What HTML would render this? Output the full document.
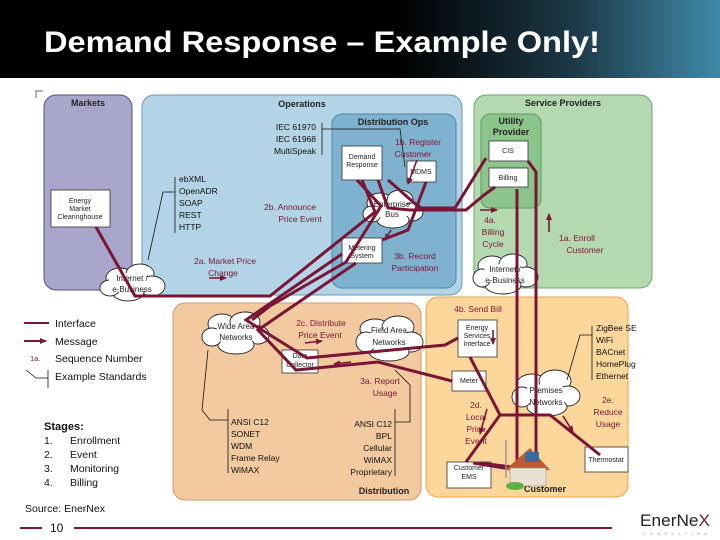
<!DOCTYPE html>
<html><head><meta charset="utf-8"><style>
body{margin:0;width:720px;height:540px;overflow:hidden;background:#fff;font-family:"Liberation Sans",sans-serif}
svg{display:block}
text{font-family:"Liberation Sans",sans-serif}
</style></head><body>
<svg width="720" height="540" viewBox="0 0 720 540" xmlns="http://www.w3.org/2000/svg">
<defs>
<linearGradient id="hg" x1="0" x2="1"><stop offset="0.55" stop-color="#000"/><stop offset="0.8" stop-color="#1d3a48"/><stop offset="1" stop-color="#3f8aa8"/></linearGradient>
<marker id="ar" markerUnits="userSpaceOnUse" markerWidth="7" markerHeight="6" refX="6" refY="3" orient="auto"><path d="M0,0 L7,3 L0,6 z" fill="#7a1535"/></marker>
</defs>
<rect x="0" y="0" width="720" height="78" fill="url(#hg)"/>
<text x="44" y="52" fill="#fff" font-size="30" font-weight="bold" textLength="556" lengthAdjust="spacingAndGlyphs">Demand Response – Example Only!</text>
<path d="M36 98 V91 H43" stroke="#666" fill="none" stroke-width="1"/>

<!-- regions -->
<rect x="44" y="95" width="88" height="195" rx="12" fill="#a9a6cb" stroke="#55527e"/>
<rect x="142" y="95" width="320" height="200" rx="12" fill="#b3d3e6" stroke="#6a9ab8"/>
<rect x="332" y="114" width="124" height="174" rx="10" fill="#7fb2cf" stroke="#4d86a8"/>
<rect x="474" y="95" width="178" height="193" rx="12" fill="#b4d9b1" stroke="#6aa86a"/>
<rect x="481" y="114" width="60" height="94" rx="9" fill="#8cc58c" stroke="#5a9a5a"/>
<rect x="173" y="303" width="248" height="197" rx="12" fill="#f3c9a0" stroke="#d49a66"/>
<rect x="426" y="297" width="202" height="200" rx="12" fill="#fcd79c" stroke="#eaa63e"/>

<g font-weight="bold" font-size="9" fill="#222" text-anchor="middle">
<text x="88" y="106">Markets</text>
<text x="302" y="107">Operations</text>
<text x="393" y="125">Distribution Ops</text>
<text x="563" y="106">Service Providers</text>
<text x="511" y="124">Utility</text><text x="511" y="135">Provider</text>
<text x="384" y="494">Distribution</text>
<text x="545" y="492">Customer</text>
</g>

<!-- boxes -->
<g fill="#fff" stroke="#333" stroke-width="0.8">
<rect x="51" y="190" width="59" height="37"/>
<rect x="342" y="146" width="40" height="34"/>
<rect x="407" y="161" width="29" height="21"/>
<rect x="342" y="238" width="40" height="25"/>
<rect x="489" y="141" width="39" height="20"/>
<rect x="489" y="168" width="39" height="19"/>
<rect x="282" y="350" width="36" height="23"/>
<rect x="458" y="320" width="39" height="37"/>
<rect x="452" y="371" width="34" height="20"/>
<rect x="447" y="462" width="44" height="26"/>
<rect x="585" y="447" width="43" height="25"/>
</g>
<g font-size="7" fill="#222" text-anchor="middle">
<text x="80" y="203">Energy</text><text x="80" y="211">Market</text><text x="80" y="219">Clearinghouse</text>
<text x="362" y="159">Demand</text><text x="362" y="167">Response</text>
<text x="421" y="174">MDMS</text>
<text x="362" y="250">Metering</text><text x="362" y="258">System</text>
<text x="508" y="153">CIS</text>
<text x="508" y="180">Billing</text>
<text x="300" y="358">Data</text><text x="300" y="367">Collector</text>
<text x="477" y="330">Energy</text><text x="477" y="338">Services</text><text x="477" y="346">Interface</text>
<text x="469" y="383">Meter</text>
<text x="469" y="470">Customer</text><text x="469" y="479">EMS</text>
<text x="606" y="462">Thermostat</text>
</g>

<!-- clouds -->
<g fill="#fff" stroke="#222" stroke-width="0.9">
<g><ellipse cx="120" cy="278" rx="14" ry="10"/><ellipse cx="140" cy="274" rx="14" ry="10"/><ellipse cx="152" cy="286" rx="13" ry="10"/><ellipse cx="128" cy="292" rx="16" ry="9"/><ellipse cx="110" cy="288" rx="10" ry="8"/></g>
<g><ellipse cx="492" cy="266" rx="14" ry="10"/><ellipse cx="513" cy="264" rx="14" ry="10"/><ellipse cx="526" cy="277" rx="12" ry="10"/><ellipse cx="503" cy="285" rx="18" ry="9"/><ellipse cx="482" cy="278" rx="9" ry="9"/></g>
<g><ellipse cx="380" cy="203" rx="13" ry="10"/><ellipse cx="400" cy="200" rx="13" ry="10"/><ellipse cx="412" cy="212" rx="11" ry="9"/><ellipse cx="393" cy="220" rx="16" ry="8"/><ellipse cx="372" cy="214" rx="9" ry="8"/></g>
<g><ellipse cx="222" cy="324" rx="14" ry="10"/><ellipse cx="245" cy="322" rx="15" ry="10"/><ellipse cx="258" cy="335" rx="11" ry="9"/><ellipse cx="236" cy="345" rx="18" ry="9"/><ellipse cx="212" cy="337" rx="10" ry="9"/></g>
<g><ellipse cx="375" cy="329" rx="15" ry="10"/><ellipse cx="398" cy="327" rx="16" ry="11"/><ellipse cx="411" cy="342" rx="12" ry="10"/><ellipse cx="389" cy="352" rx="20" ry="9"/><ellipse cx="366" cy="342" rx="10" ry="10"/></g>
<g><ellipse cx="532" cy="384" rx="15" ry="10"/><ellipse cx="555" cy="381" rx="16" ry="11"/><ellipse cx="568" cy="396" rx="12" ry="10"/><ellipse cx="547" cy="407" rx="20" ry="9"/><ellipse cx="522" cy="397" rx="10" ry="10"/></g>
</g>
<g fill="#fff">
<ellipse cx="130" cy="283" rx="22" ry="10"/><ellipse cx="504" cy="274" rx="22" ry="10"/><ellipse cx="392" cy="210" rx="20" ry="9"/>
<ellipse cx="236" cy="334" rx="22" ry="10"/><ellipse cx="389" cy="340" rx="24" ry="11"/><ellipse cx="546" cy="395" rx="24" ry="11"/>
</g>
<g font-size="8" fill="#222" text-anchor="middle">
<text x="132" y="281">Internet /</text><text x="132" y="292">e-Business</text>
<text x="505" y="272">Internet /</text><text x="505" y="283">e-Business</text>
<text x="392" y="207">Enterprise</text><text x="392" y="217">Bus</text>
<text x="236" y="329">Wide Area</text><text x="236" y="340">Networks</text>
<text x="389" y="333">Field Area</text><text x="389" y="345">Networks</text>
<text x="546" y="393">Premises</text><text x="546" y="405">Networks</text>
</g>

<!-- interface lines -->
<g stroke="#7a1535" stroke-width="3" fill="none" stroke-linejoin="miter">
<path d="M96 227 L135 296 L270 296 L375 212 L362 180"/>
<path d="M378 180 L388 208 L410 210 L466 210 L484 195 L495 187"/>
<path d="M426 182 L408 230 L382 240"/>
<path d="M357 180 L381 206 L346 262 L270 306 L252 320"/>
<path d="M388 180 L420 208 L455 208 L486 158"/>
<path d="M342 254 L246 320 L307 358 L445 345 L458 338"/>
<path d="M356 263 L258 330 L296 370 L378 362 L452 381"/>
<path d="M517 189 L517 470 L473 463"/>
<path d="M528 161 L536 172 L536 470 L480 463"/>
<path d="M470 357 L500 415 L466 462"/>
<path d="M500 415 L550 415 L600 455"/>
</g>
<g stroke="#7a1535" stroke-width="1.6" fill="none" marker-end="url(#ar)">
<line x1="209" y1="278" x2="226" y2="278"/>
<line x1="417" y1="160" x2="408" y2="184"/>
<line x1="391" y1="230" x2="385" y2="240"/>
<line x1="480" y1="210" x2="497" y2="210"/>
<line x1="549" y1="232" x2="549" y2="214"/>
<line x1="305" y1="343" x2="322" y2="341"/>
<line x1="351" y1="362" x2="334" y2="364"/>
<line x1="493" y1="330" x2="493" y2="344"/>
<line x1="487" y1="409" x2="480" y2="434"/>
<line x1="563" y1="416" x2="573" y2="432"/>
</g>

<!-- standards brackets -->
<g stroke="#111" stroke-width="0.8" fill="none">
<path d="M322 123 V155 M322 129 H400 L405 167"/>
<path d="M175 177 V233 M175 192 H163 L148 260"/>
<path d="M228 409 V473 M228 420 H210 L202 410 L208 350"/>
<path d="M395 409 V476 M395 422 H410 V385 L395 370"/>
<path d="M592 326 V380 M592 335 H580 L567 380"/>
</g>

<g font-size="8.5" fill="#111">
<text x="316" y="130" text-anchor="end">IEC 61970</text>
<text x="316" y="142" text-anchor="end">IEC 61968</text>
<text x="316" y="154" text-anchor="end">MultiSpeak</text>
<text x="179" y="182">ebXML</text><text x="179" y="194">OpenADR</text><text x="179" y="206">SOAP</text><text x="179" y="218">REST</text><text x="179" y="230">HTTP</text>
<text x="231" y="425">ANSI C12</text><text x="231" y="437">SONET</text><text x="231" y="449">WDM</text><text x="231" y="461">Frame Relay</text><text x="231" y="473">WiMAX</text>
<g text-anchor="end"><text x="392" y="427">ANSI C12</text><text x="392" y="439">BPL</text><text x="392" y="451">Cellular</text><text x="392" y="463">WiMAX</text><text x="392" y="475">Proprietary</text></g>
<text x="596" y="331">ZigBee SE</text><text x="596" y="343">WiFi</text><text x="596" y="355">BACnet</text><text x="596" y="367">HomePlug</text><text x="596" y="379">Ethernet</text>
</g>

<g font-size="8.5" fill="#7a1535" text-anchor="middle">
<text x="418" y="145">1b. Register</text><text x="413" y="157">Customer</text>
<text x="290" y="210">2b. Announce</text><text x="300" y="222">Price Event</text>
<text x="225" y="264">2a. Market Price</text><text x="223" y="276">Change</text>
<text x="415" y="259">3b. Record</text><text x="415" y="271">Participation</text>
<text x="490" y="223">4a.</text><text x="493" y="235">Billing</text><text x="493" y="247">Cycle</text>
<text x="577" y="241">1a. Enroll</text><text x="585" y="253">Customer</text>
<text x="478" y="312">4b. Send Bill</text>
<text x="321" y="326">2c. Distribute</text><text x="320" y="338">Price Event</text>
<text x="380" y="384">3a. Report</text><text x="385" y="396">Usage</text>
<text x="476" y="408">2d.</text><text x="476" y="420">Local</text><text x="476" y="432">Price</text><text x="476" y="444">Event</text>
<text x="608" y="403">2e.</text><text x="608" y="415">Reduce</text><text x="608" y="427">Usage</text>
</g>

<!-- house icon -->
<g>
<path d="M505 470 L530 448 L550 470 Z" fill="#c05a30"/>
<rect x="510" y="468" width="36" height="18" fill="#e8e0d0" stroke="#888" stroke-width="0.5"/>
<rect x="525" y="452" width="14" height="10" fill="#3a6aa0"/>
<ellipse cx="515" cy="486" rx="9" ry="4" fill="#5cb040"/>
<line x1="506" y1="440" x2="506" y2="478" stroke="#999" stroke-width="1.5"/>
</g>

<!-- legend -->
<line x1="24" y1="323" x2="49" y2="323" stroke="#7a1535" stroke-width="2"/>
<line x1="24" y1="341" x2="46" y2="341" stroke="#7a1535" stroke-width="2" marker-end="url(#ar)"/>
<g font-size="10.5" fill="#111">
<text x="55" y="327">Interface</text>
<text x="55" y="345">Message</text>
<text x="55" y="362">Sequence Number</text>
<text x="55" y="380">Example Standards</text>
<text x="44" y="430" font-weight="bold" font-size="11">Stages:</text>
<text x="44" y="444">1.</text><text x="70" y="444">Enrollment</text>
<text x="44" y="458">2.</text><text x="70" y="458">Event</text>
<text x="44" y="472">3.</text><text x="70" y="472">Monitoring</text>
<text x="44" y="486">4.</text><text x="70" y="486">Billing</text>
<text x="25" y="512">Source: EnerNex</text>
</g>
<text x="30" y="361" font-size="7.5" fill="#7a1535">1a.</text>
<path d="M26 370 L36 378 H48 M48 370 V388" stroke="#111" stroke-width="0.8" fill="none"/>

<!-- footer -->
<line x1="20" y1="528" x2="42" y2="528" stroke="#7a1535" stroke-width="2"/>
<line x1="74" y1="528" x2="612" y2="528" stroke="#7a1535" stroke-width="2"/>
<text x="50" y="532" font-size="12" fill="#111">10</text>
<text x="640" y="526" font-size="17" fill="#222" textLength="70" lengthAdjust="spacingAndGlyphs">EnerNe<tspan fill="#7a1535">X</tspan></text>
<text x="643" y="535" font-size="3.5" fill="#888" textLength="64">CONSULTING</text>
</svg>
</body></html>
